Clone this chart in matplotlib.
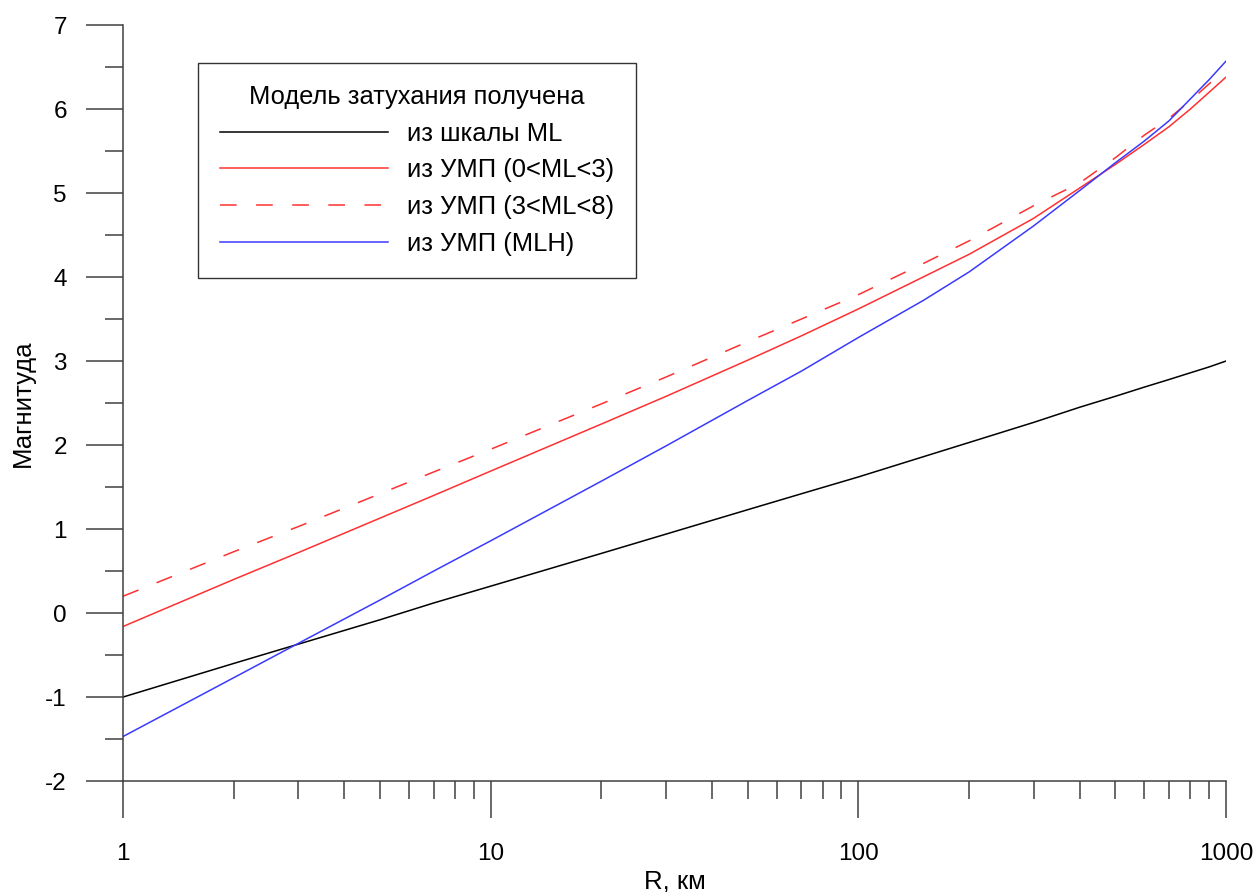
import matplotlib
matplotlib.use('Agg')
import matplotlib.pyplot as plt
from matplotlib.ticker import MultipleLocator, LogLocator, FixedFormatter, FixedLocator, NullFormatter

plt.rcParams['font.family'] = ['Liberation Sans', 'DejaVu Sans']
plt.rcParams['axes.unicode_minus'] = False
plt.rcParams['lines.scale_dashes'] = False

# distances, km
R = [1, 2, 3, 5, 7, 10, 20, 30, 50, 70, 100, 150, 200, 300, 400, 500, 600, 700, 800, 900, 1000]

# magnitude for each attenuation model
ml_scale = [-1.0, -0.60, -0.37, -0.08, 0.12, 0.32, 0.71, 0.94, 1.23, 1.42, 1.62,
            1.86, 2.03, 2.27, 2.45, 2.58, 2.69, 2.78, 2.86, 2.93, 3.0]
ump_0_3 = [-0.16, 0.40, 0.72, 1.13, 1.40, 1.69, 2.25, 2.58, 3.01, 3.30, 3.62,
           4.00, 4.27, 4.70, 5.06, 5.34, 5.58, 5.79, 6.00, 6.20, 6.38]
ump_3_8 = [0.20, 0.73, 1.03, 1.42, 1.68, 1.95, 2.49, 2.81, 3.23, 3.50, 3.79,
           4.16, 4.43, 4.85, 5.12, 5.42, 5.69, 5.89, 6.10, 6.30, 6.47]
ump_mlh = [-1.47, -0.77, -0.36, 0.155, 0.50, 0.86, 1.57, 1.99, 2.53, 2.88, 3.28,
           3.72, 4.06, 4.61, 5.03, 5.36, 5.62, 5.86, 6.12, 6.35, 6.57]

labels = ['из шкалы ML', 'из УМП (0<ML<3)', 'из УМП (3<ML<8)', 'из УМП (MLH)']
x_ticks = [1, 10, 100, 1000]
x_tick_labels = ['1', '10', '100', '1000']

fig = plt.figure(figsize=(12.57, 8.92), dpi=100)
ax = fig.add_axes([0.0979, 0.1244, 0.8774, 0.8475])

ax.plot(R, ml_scale, color='black', lw=1.1, label=labels[0])
ax.plot(R, ump_0_3, color='#ff3030', lw=1.1, label=labels[1])
ax.plot(R, ump_3_8, color='#ff3030', lw=1.1, dashes=(12, 14), label=labels[2])
ax.plot(R, ump_mlh, color='#3a3aff', lw=1.1, label=labels[3])

ax.set_xscale('log')
ax.set_xlim(1, 1000)
ax.set_ylim(-2, 7)

ax.xaxis.set_major_locator(FixedLocator(x_ticks))
ax.xaxis.set_major_formatter(FixedFormatter(x_tick_labels))
ax.xaxis.set_minor_locator(LogLocator(base=10, subs=range(2, 10)))
ax.xaxis.set_minor_formatter(NullFormatter())
ax.yaxis.set_major_locator(MultipleLocator(1))
ax.yaxis.set_minor_locator(MultipleLocator(0.5))

for s in ['top', 'right']:
    ax.spines[s].set_visible(False)
for s in ['left', 'bottom']:
    ax.spines[s].set_color('#404040')
    ax.spines[s].set_linewidth(1.1)

ax.tick_params(which='major', length=26.5, width=1.1, color='#404040', labelsize=17.5)
ax.tick_params(which='minor', length=13, width=1.1, color='#404040')
ax.tick_params(axis='x', which='major', pad=18)
ax.tick_params(axis='y', which='major', pad=14)

ax.set_xlabel('R, км', fontsize=18.5)
ax.set_ylabel('Магнитуда', fontsize=18.5)
ax.xaxis.set_label_coords(0.5, -0.117)
ax.yaxis.set_label_coords(-0.080, 0.5)

leg = ax.legend(loc='upper left', bbox_to_anchor=(0.068, 0.9497), borderaxespad=0,
                title='Модель затухания получена', fontsize=18.4, title_fontsize=18.4,
                fancybox=False, framealpha=1, edgecolor='#333333',
                handlelength=6.6, handletextpad=0.72, labelspacing=0.5,
                borderpad=0.85)
leg.get_frame().set_linewidth(1.0)

fig.savefig('out.png', dpi=100)
